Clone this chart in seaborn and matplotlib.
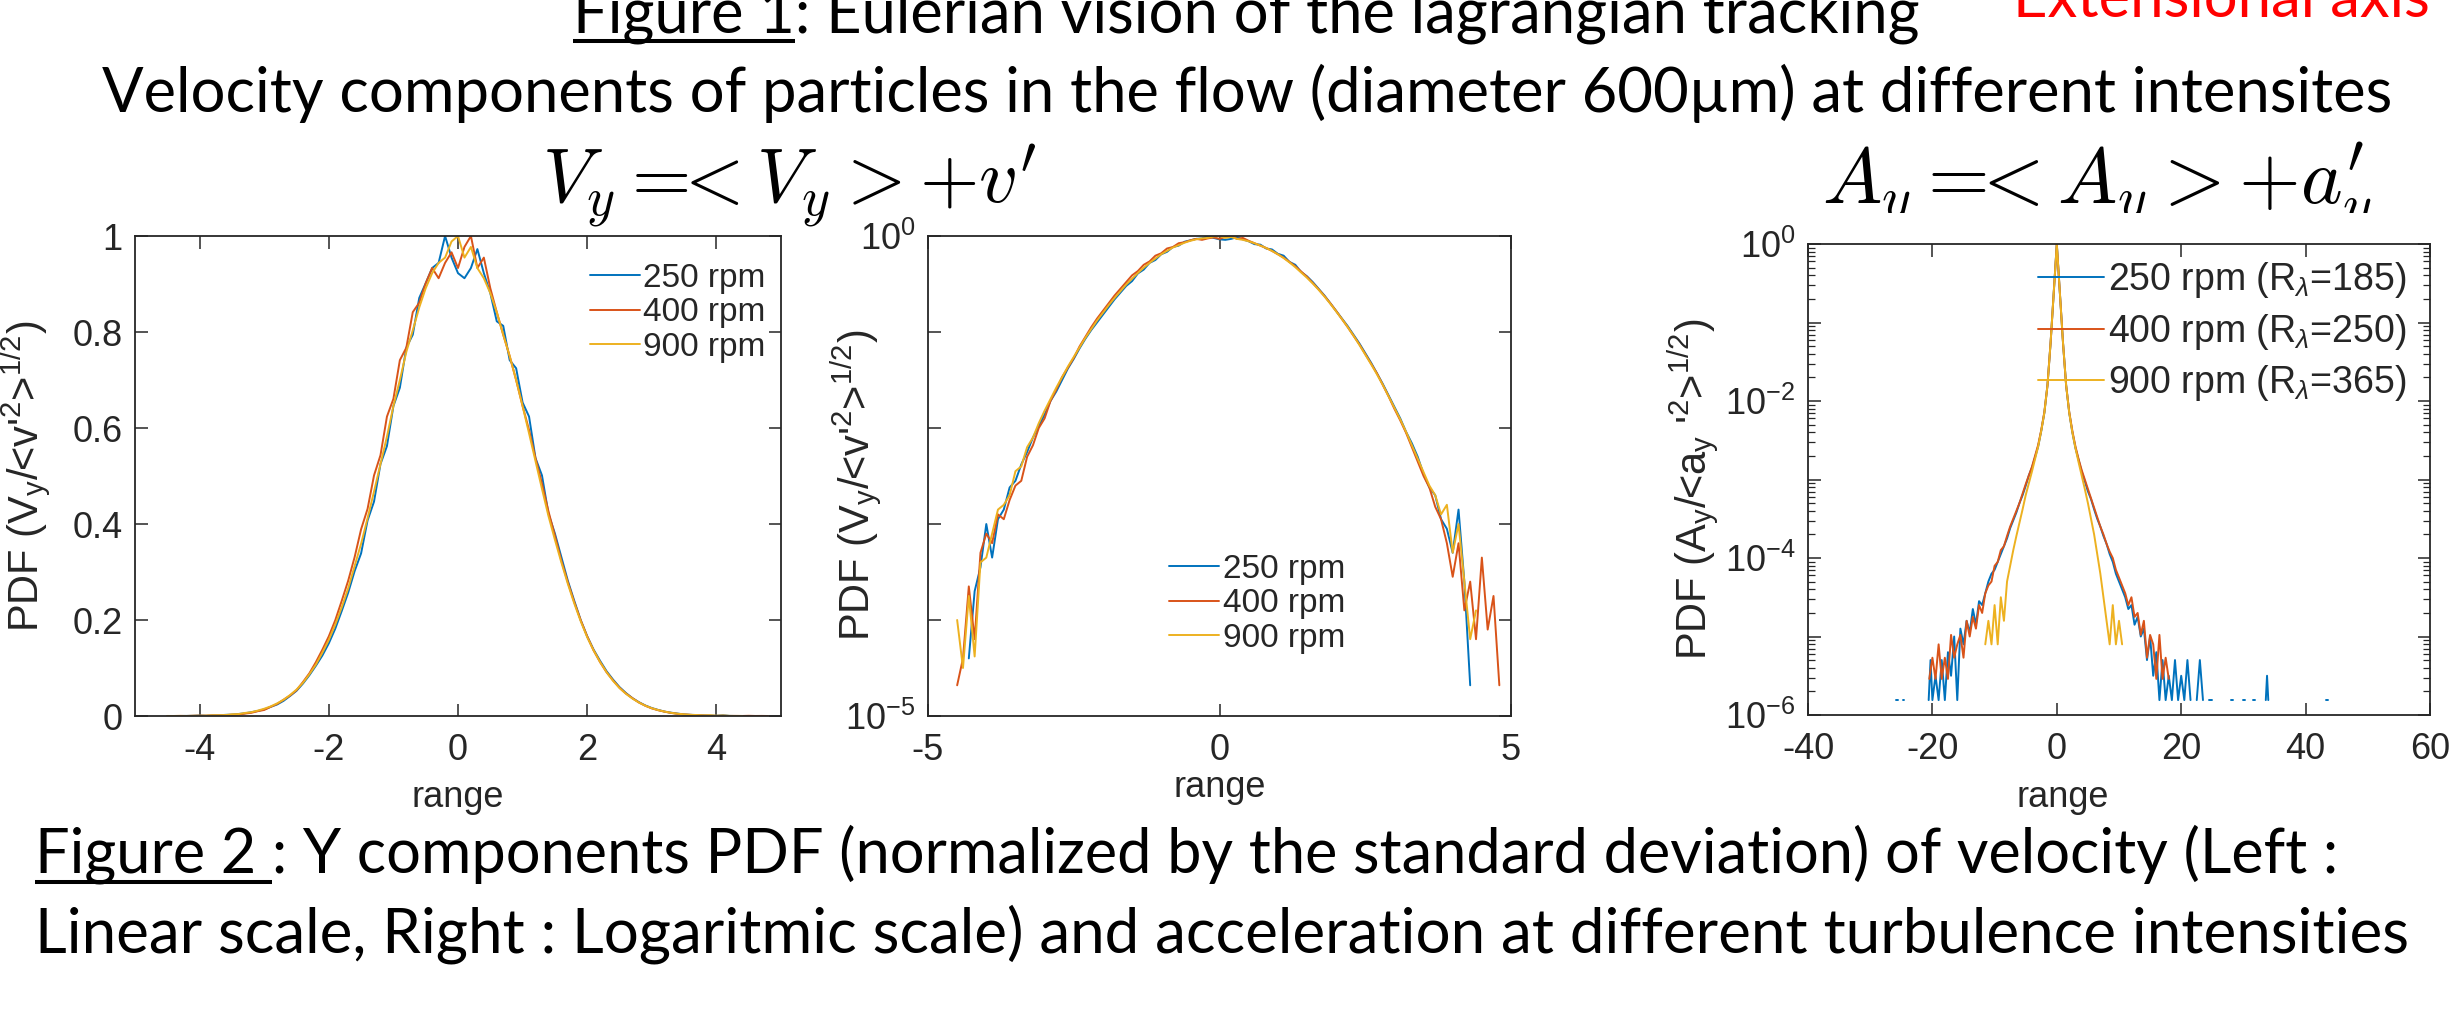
import numpy as np
import pandas as pd
import matplotlib
matplotlib.use("Agg")
import matplotlib.pyplot as plt
import seaborn as sns
from matplotlib.lines import Line2D
from matplotlib.transforms import Bbox
from matplotlib.ticker import LogLocator, NullLocator, NullFormatter

nan = np.nan
W, H = 2462, 1015

# ---------------- data (log10 of normalised PDF) ----------------
vel_x = np.round(np.arange(-45, 49) / 10, 1)   # -4.5 ... 4.8, bin centres

vel_log_250 = [
    nan, nan, -4.4, -3.7, -3.45, -3.0, -3.35, -2.95, -2.85, -2.62,
    -2.55, -2.38, -2.25, -2.1, -1.98, -1.86, -1.72, -1.62, -1.5, -1.38,
    -1.28, -1.17, -1.07, -0.98, -0.9, -0.82, -0.74, -0.66, -0.59, -0.52,
    -0.47, -0.39, -0.35, -0.28, -0.25, -0.19, -0.165, -0.115, -0.1, -0.06,
    -0.045, -0.03, -0.025, 0.0, -0.02, -0.035, -0.04, -0.03, -0.012, -0.035,
    -0.055, -0.085, -0.09, -0.13, -0.14, -0.185, -0.205, -0.27, -0.30, -0.375,
    -0.42, -0.48, -0.55, -0.62, -0.70, -0.78, -0.86, -0.94, -1.03, -1.12,
    -1.22, -1.32, -1.43, -1.54, -1.66, -1.78, -1.9, -2.04, -2.16, -2.3,
    -2.48, -2.62, -2.7, -2.95, -3.05, -3.3, -2.85, -3.6, -4.68, nan,
    nan, nan, nan, nan,
]
vel_log_400 = [
    -4.68, -4.4, -3.65, -4.2, -3.3, -3.1, -3.2, -2.9, -2.95, -2.75,
    -2.6, -2.55, -2.3, -2.18, -2.0, -1.9, -1.72, -1.6, -1.47, -1.37,
    -1.27, -1.15, -1.05, -0.95, -0.86, -0.78, -0.70, -0.62, -0.55, -0.48,
    -0.41, -0.365, -0.30, -0.265, -0.205, -0.18, -0.13, -0.115, -0.075, -0.065,
    -0.045, -0.03, -0.04, -0.025, -0.015, -0.03, -0.01, 0.0, -0.03, -0.02,
    -0.05, -0.075, -0.1, -0.125, -0.155, -0.19, -0.225, -0.27, -0.315, -0.37,
    -0.425, -0.49, -0.555, -0.625, -0.70, -0.78, -0.865, -0.95, -1.04, -1.13,
    -1.23, -1.33, -1.43, -1.55, -1.67, -1.8, -1.92, -2.05, -2.2, -2.35,
    -2.5, -2.62, -2.82, -2.95, -3.2, -3.55, -3.2, -3.9, -3.6, -4.2,
    -3.35, -4.1, -3.75, -4.68,
]
vel_log_900 = [
    -4.0, -4.5, -3.75, -4.38, -3.4, -3.35, -3.1, -2.85, -2.8, -2.7,
    -2.45, -2.4, -2.2, -2.1, -1.95, -1.82, -1.7, -1.58, -1.47, -1.36,
    -1.26, -1.16, -1.06, -0.97, -0.88, -0.8, -0.72, -0.645, -0.575, -0.505,
    -0.445, -0.385, -0.33, -0.28, -0.235, -0.19, -0.155, -0.12, -0.095, -0.07,
    -0.05, -0.035, -0.025, -0.02, -0.005, 0.0, -0.02, -0.01, -0.03, -0.04,
    -0.055, -0.075, -0.1, -0.125, -0.155, -0.19, -0.23, -0.275, -0.325, -0.38,
    -0.435, -0.495, -0.56, -0.63, -0.705, -0.785, -0.865, -0.95, -1.04, -1.135,
    -1.235, -1.335, -1.44, -1.55, -1.67, -1.79, -1.91, -2.04, -2.18, -2.32,
    -2.46, -2.6, -2.7, -2.9, -2.8, -3.3, -3.0, -3.6, -4.2, -3.9,
    nan, -4.38, nan, nan,
]

# acceleration PDFs: (a / a_rms, log10 PDF)
acc_250 = [
    (-25.8, -5.81), (-25.5, -5.81), (-25.2, nan), (-24.8, -5.81), (-24.5, -5.81), (-24.2, nan),
    (-20.6, -5.81), (-20.3, -5.3), (-20.0, -5.81), (-19.5, -5.5), (-19.0, -5.81), (-18.5, -5.3),
    (-18.0, -5.81), (-17.5, -5.2), (-17.0, -5.5), (-16.5, -5.0), (-16.0, -5.81), (-15.5, -4.9),
    (-15.0, -5.1), (-14.5, -4.8), (-14.0, -4.95), (-13.5, -4.65), (-13.0, -4.85), (-12.5, -4.55),
    (-12.0, -4.6), (-11.5, -4.45), (-11.0, -4.3), (-10.5, -4.2), (-10.0, -4.15), (-9.5, -4.05),
    (-9.0, -3.95), (-8.5, -3.85), (-8.0, -3.75), (-7.5, -3.62), (-7.0, -3.52), (-6.5, -3.42),
    (-6.0, -3.3), (-5.5, -3.2), (-5.0, -3.08), (-4.5, -2.95), (-4.0, -2.85), (-3.5, -2.72),
    (-3.0, -2.58), (-2.5, -2.38), (-2.0, -2.15), (-1.5, -1.8), (-1.0, -1.26), (-0.5, -0.63),
    (0.0, 0.0), (0.5, -0.63), (1.0, -1.26), (1.5, -1.8), (2.0, -2.15), (2.5, -2.4),
    (3.0, -2.6), (3.5, -2.75), (4.0, -2.9), (4.5, -3.02), (5.0, -3.15), (5.5, -3.25),
    (6.0, -3.38), (6.5, -3.5), (7.0, -3.6), (7.5, -3.72), (8.0, -3.82), (8.5, -3.95),
    (9.0, -4.05), (9.5, -4.2), (10.0, -4.3), (10.5, -4.4), (11.0, -4.5), (11.5, -4.65),
    (12.0, -4.6), (12.5, -4.85), (13.0, -4.75), (13.5, -5.0), (14.0, -4.9), (14.5, -5.3),
    (15.0, -5.0), (15.5, -5.5), (16.0, -5.2), (16.5, -5.81), (17.0, -5.3), (17.5, -5.81),
    (18.0, -5.5), (18.5, -5.81), (19.0, -5.3), (19.5, -5.81), (20.0, -5.5), (20.5, -5.81),
    (21.0, -5.3), (21.5, -5.81), (22.0, nan), (22.5, -5.81), (23.0, -5.3), (23.5, -5.81),
    (24.0, nan), (24.5, -5.81), (25.0, -5.81), (25.5, nan), (28.0, -5.81), (28.3, -5.81),
    (28.6, nan), (30.0, -5.81), (30.3, -5.81), (30.6, nan), (31.5, -5.81), (31.8, -5.81),
    (32.1, nan), (33.6, -5.81), (33.8, -5.5), (34.0, -5.81), (34.2, nan), (43.3, -5.81),
    (43.6, -5.81),
]
acc_400 = [
    (-20.5, -5.54), (-20.0, -5.27), (-19.5, -5.54), (-19.0, -5.1), (-18.5, -5.54), (-18.0, -5.27),
    (-17.5, -5.54), (-17.0, -4.98), (-16.5, -5.27), (-16.0, -5.1), (-15.5, -4.98), (-15.0, -5.27),
    (-14.5, -4.8), (-14.0, -5.0), (-13.5, -4.75), (-13.0, -4.9), (-12.5, -4.6), (-12.0, -4.7),
    (-11.5, -4.45), (-11.0, -4.35), (-10.5, -4.3), (-10.0, -4.1), (-9.5, -4.05), (-9.0, -3.9),
    (-8.5, -3.85), (-8.0, -3.72), (-7.5, -3.6), (-7.0, -3.5), (-6.5, -3.4), (-6.0, -3.3),
    (-5.5, -3.18), (-5.0, -3.06), (-4.5, -2.95), (-4.0, -2.84), (-3.5, -2.7), (-3.0, -2.56),
    (-2.5, -2.37), (-2.0, -2.14), (-1.5, -1.8), (-1.0, -1.26), (-0.5, -0.63), (0.0, 0.0),
    (0.5, -0.63), (1.0, -1.26), (1.5, -1.8), (2.0, -2.14), (2.5, -2.38), (3.0, -2.58),
    (3.5, -2.74), (4.0, -2.88), (4.5, -3.0), (5.0, -3.12), (5.5, -3.24), (6.0, -3.36),
    (6.5, -3.48), (7.0, -3.6), (7.5, -3.7), (8.0, -3.82), (8.5, -3.92), (9.0, -4.0),
    (9.5, -4.15), (10.0, -4.25), (10.5, -4.35), (11.0, -4.45), (11.5, -4.6), (12.0, -4.5),
    (12.5, -4.75), (13.0, -4.7), (13.5, -4.98), (14.0, -4.8), (14.5, -5.27), (15.0, -4.98),
    (15.5, -5.1), (16.0, -5.54), (16.5, -4.98), (17.0, -5.54), (17.5, -5.27), (18.0, -5.54),
]
acc_900 = [
    (-11.5, -5.1), (-11.0, -4.8), (-10.5, -5.1), (-10.0, -4.6), (-9.5, -5.1), (-9.0, -4.5),
    (-8.5, -4.8), (-8.0, -4.3), (-7.5, -4.1), (-7.0, -3.9), (-6.5, -3.72), (-6.0, -3.55),
    (-5.5, -3.38), (-5.0, -3.2), (-4.5, -3.05), (-4.0, -2.9), (-3.5, -2.74), (-3.0, -2.58),
    (-2.5, -2.38), (-2.0, -2.15), (-1.5, -1.8), (-1.0, -1.26), (-0.5, -0.63), (0.0, 0.0),
    (0.5, -0.63), (1.0, -1.26), (1.5, -1.8), (2.0, -2.15), (2.5, -2.4), (3.0, -2.6),
    (3.5, -2.78), (4.0, -2.95), (4.5, -3.12), (5.0, -3.3), (5.5, -3.5), (6.0, -3.7),
    (6.5, -3.95), (7.0, -4.2), (7.5, -4.5), (8.0, -4.8), (8.5, -5.1), (9.0, -4.6),
    (9.5, -5.1), (10.0, -4.8), (10.5, -5.1),
]

rpm_labels = ["250 rpm", "400 rpm", "900 rpm"]
acc_labels = [r"250 rpm (R$_\lambda$=185)", r"400 rpm (R$_\lambda$=250)", r"900 rpm (R$_\lambda$=365)"]
line_colors = ["#0072BD", "#D95319", "#EDB120"]

lin_yticks = [0, 0.2, 0.4, 0.6, 0.8, 1]
lin_yticklabels = ["0", "0.2", "0.4", "0.6", "0.8", "1"]
lin_xticks = [-4, -2, 0, 2, 4]
vlog_xticks = [-5, 0, 5]
vlog_yticks = [1e-5, 1e-4, 1e-3, 1e-2, 1e-1, 1e0]
vlog_yticklabels = [r"$\mathregular{10^{-5}}$", "", "", "", "", r"$\mathregular{10^{0}}$"]
acc_xticks = [-40, -20, 0, 20, 40, 60]
acc_yticks = [1e-6, 1e-5, 1e-4, 1e-3, 1e-2, 1e-1, 1e0]
acc_yticklabels = [r"$\mathregular{10^{-6}}$", "", r"$\mathregular{10^{-4}}$", "",
                   r"$\mathregular{10^{-2}}$", "", r"$\mathregular{10^{0}}$"]

title_1 = "Figure 1: Eulerian vision of the lagrangian tracking"
title_1_ul = "Figure 1"
title_red = "Extensional axis"
title_2 = "Velocity components of particles in the flow (diameter 600µm) at different intensites"
formula_v = r"$V_y =\!\!\!< V_y > +v^{\prime}$"
formula_a = r"$A_y =\!\!\!< A_y > +a^{\prime}_{y}$"
caption_1 = "Figure 2 : Y components PDF (normalized by the standard deviation) of velocity (Left :"
caption_1_ul = "Figure 2 "
caption_2 = "Linear scale, Right : Logaritmic scale) and acceleration at different turbulence intensities"
ylabel_v = r"PDF (V$_\mathrm{y}$/<v'$^\mathrm{2}$>$^\mathrm{1/2}$)"
ylabel_a = r"PDF (A$_\mathrm{y}$/<a$_\mathrm{y}$ '$^\mathrm{2}$>$^\mathrm{1/2}$)"
xlabel_all = "range"

# ---------------- style ----------------
sns.set_theme(style="white")
plt.rcParams.update({
    "mathtext.fontset": "custom",
    "mathtext.rm": "Liberation Sans",
    "mathtext.it": "Liberation Sans:italic",
    "mathtext.bf": "Liberation Sans:bold",
    "mathtext.sf": "Liberation Sans",
    "axes.unicode_minus": False,
    "text.color": "#262626",
    "axes.labelcolor": "#262626",
})
plt.rcParams["font.family"] = ["Liberation Sans", "DejaVu Sans"]
TITLE_FONT = ["Lato", "DejaVu Sans"]
TICK_FS = 26
XLAB_FS = 26
YLAB_FS = 30


def frame(xs, ys, label):
    xs = np.asarray(xs, dtype=float)
    ys = np.asarray(ys, dtype=float)
    valid = ~np.isnan(ys)
    seg = np.cumsum(~valid)
    return pd.DataFrame({"x": xs[valid], "pdf": 10.0 ** ys[valid],
                         "seg": seg[valid], "series": label})


vel_df = pd.concat([frame(vel_x, v, l) for v, l in
                    zip([vel_log_250, vel_log_400, vel_log_900], rpm_labels)], ignore_index=True)
acc_df = pd.concat([frame(*zip(*a), l) for a, l in
                    zip([acc_250, acc_400, acc_900], acc_labels)], ignore_index=True)

fig = plt.figure(figsize=(W / 100, H / 100), dpi=100)
fig.patch.set_facecolor("white")


def px_box(l, t, r, b):
    return [l / W, 1 - b / H, (r - l) / W, (b - t) / H]


ax1 = fig.add_axes(px_box(135, 236, 781, 716))
ax2 = fig.add_axes(px_box(928, 236, 1511, 716))
ax3 = fig.add_axes(px_box(1808, 244, 2430, 715))

for ax in (ax1, ax2):
    sns.lineplot(data=vel_df, x="x", y="pdf", hue="series", hue_order=rpm_labels,
                 units="seg", estimator=None, palette=line_colors, linewidth=1.4, ax=ax)
sns.lineplot(data=acc_df, x="x", y="pdf", hue="series", hue_order=acc_labels,
             units="seg", estimator=None, palette=line_colors, linewidth=1.4, ax=ax3)


def style(ax):
    ax.set_facecolor("white")
    ax.grid(False)
    for s in ax.spines.values():
        s.set_visible(True)
        s.set_color("#262626")
        s.set_linewidth(1.3)
    ax.tick_params(which="both", direction="in", top=True, right=True, bottom=True, left=True,
                   colors="#262626", labelsize=TICK_FS)
    ax.tick_params(which="major", length=9, width=1.1)
    ax.tick_params(which="minor", length=5, width=0.9)
    ax.tick_params(axis="x", pad=12)
    ax.tick_params(axis="y", pad=9)


# panel 1 (linear)
ax1.set_xlim(-5, 5)
ax1.set_ylim(0, 1)
ax1.set_xticks(lin_xticks)
ax1.set_yticks(lin_yticks)
ax1.set_yticklabels(lin_yticklabels)

# panel 2 (log velocity)
ax2.set_yscale("log")
ax2.set_xlim(-5, 5)
ax2.set_ylim(1e-5, 1)
ax2.set_xticks(vlog_xticks)
ax2.set_yticks(vlog_yticks)
ax2.set_yticklabels(vlog_yticklabels)
ax2.yaxis.set_minor_locator(NullLocator())

# panel 3 (log acceleration)
ax3.set_yscale("log")
ax3.set_xlim(-40, 60)
ax3.set_ylim(1e-6, 1)
ax3.set_xticks(acc_xticks)
ax3.set_yticks(acc_yticks)
ax3.set_yticklabels(acc_yticklabels)
ax3.yaxis.set_minor_locator(LogLocator(base=10, subs=np.arange(2, 10), numticks=20))
ax3.yaxis.set_minor_formatter(NullFormatter())

for ax in (ax1, ax2, ax3):
    style(ax)

# axis labels
label_specs = [
    (ax1, ylabel_v, -0.127, 0.5, 0.5, -0.19),
    (ax2, ylabel_v, -0.075, 0.48, 0.5, -0.168),
    (ax3, ylabel_a, -0.14, 0.48, 0.41, -0.196),
]
for ax, yl, yx, yy, xx, xy in label_specs:
    ax.set_ylabel(yl, fontsize=YLAB_FS)
    ax.yaxis.set_label_coords(yx, yy)
    ax.set_xlabel(xlabel_all, fontsize=XLAB_FS)
    ax.xaxis.set_label_coords(xx, xy)
    ax.xaxis.label.set_va("baseline")

# legends
legend_specs = [
    (ax1, (0.704, 0.944), 24, 0.1, 1.5),
    (ax2, (0.414, 0.3375), 24, 0.1, 1.5),
    (ax3, (0.37, 0.965), 27, 0.3, 1.75),
]
for ax, anchor, fs, spacing, hlen in legend_specs:
    old = ax.get_legend()
    handles = old.legend_handles
    labels = [t.get_text() for t in old.get_texts()]
    old.remove()
    for h in handles:
        h.set_linewidth(1.4)
    ax.legend(handles, labels, loc="upper left", bbox_to_anchor=anchor, frameon=False,
              fontsize=fs, handlelength=hlen, handletextpad=0.1, borderpad=0,
              borderaxespad=0, labelspacing=spacing)

# ---------------- slide texts ----------------
renderer = fig.canvas.get_renderer()


def fit(t, target_w):
    w = t.get_window_extent(renderer).width
    t.set_fontsize(t.get_fontsize() * target_w / w)


def ftext(xpx, ypx, s, target_w, **kw):
    t = fig.text(xpx / W, 1 - ypx / H, s, ha="left", va="baseline", **kw)
    fit(t, target_w)
    return t


def underline(t, prefix, ypx, lw=2.9):
    tmp = fig.text(t.get_position()[0], t.get_position()[1], prefix, ha="left", va="baseline",
                   fontsize=t.get_fontsize(), family=t.get_fontfamily())
    bb = tmp.get_window_extent(renderer)
    tmp.remove()
    fig.add_artist(Line2D([bb.x0 / W, bb.x1 / W], [1 - ypx / H, 1 - ypx / H],
                          transform=fig.transFigure, color="black", linewidth=lw,
                          solid_capstyle="butt"))


t1 = ftext(573, 33, title_1, 1346, fontsize=44, family=TITLE_FONT, color="black")
underline(t1, title_1_ul, 41)
ftext(2013, 17, title_red, 418, fontsize=44, family=TITLE_FONT, color="#FF0000")
ftext(102, 112, title_2, 2292, fontsize=44, family=TITLE_FONT, color="black")

ftext(542, 203, formula_v, 495, fontsize=50, math_fontfamily="cm", color="black")
ta = ftext(1822, 203, formula_a, 550, fontsize=50, math_fontfamily="cm", color="black")
ta.set_clip_box(Bbox.from_extents(0, H - 213, W, H))
ta.set_clip_on(True)

c1 = ftext(35, 872, caption_1, 2304, fontsize=44, family=TITLE_FONT, color="black")
underline(c1, caption_1_ul, 882)
ftext(35, 952, caption_2, 2375, fontsize=44, family=TITLE_FONT, color="black")

fig.savefig("out.png", dpi=100, facecolor="white")
